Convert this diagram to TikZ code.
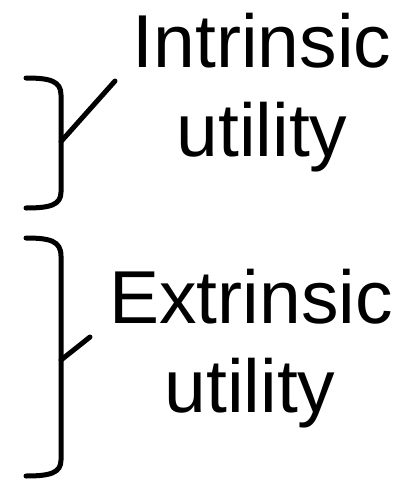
\documentclass[tikz,border=0pt]{standalone}
\usepackage{fontspec}
\setmainfont{Liberation Sans}
\begin{document}
\begin{tikzpicture}[x=1pt,y=-1pt,
  bracket/.style={line width=5pt,line cap=round,line join=round},
  tick/.style={line width=5pt,line cap=round},
  label/.style={anchor=base,inner sep=0pt,font=\fontsize{75}{89}\selectfont}]
\useasboundingbox (0,0) rectangle (420,480);

% upper bracket and its tick
\draw[bracket] (26,78) .. controls (50,78) and (61,81) .. (61,95)
  -- coordinate[pos=0.48] (b1) (61,192)
  .. controls (61,205) and (50,208) .. (26,208);
\coordinate (t1) at (115,81);
\draw[tick] (b1) -- (t1);

% lower bracket and its tick
\draw[bracket] (26,238) .. controls (50,238) and (61,241) .. (61,256)
  -- coordinate[pos=0.51] (b2) (61,460)
  .. controls (61,473) and (50,476) .. (26,476);
\coordinate (t2) at (90,337);
\draw[tick] (b2) -- (t2);

% labels
\node[label] (intr) at (262,67) {Intrinsic};
\node[label] (intru) at (262,156) {utility};
\node[label] (extr) at (251,323) {Extrinsic};
\node[label] (extru) at (250,412) {utility};
\end{tikzpicture}
\end{document}
